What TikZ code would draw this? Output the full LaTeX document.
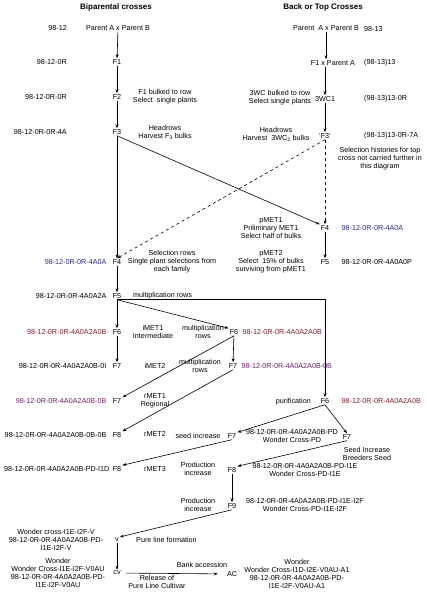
\documentclass[tikz,border=0pt]{standalone}
\usepackage{fontspec}
\setmainfont{Liberation Sans}
\usetikzlibrary{positioning,arrows.meta}
\definecolor{idblue}{RGB}{40,40,140}
\definecolor{idred}{RGB}{130,30,40}
\definecolor{idpurple}{RGB}{110,30,110}

\begin{document}
\begin{tikzpicture}[x=1pt, y=-1pt, font=\fontsize{7.2}{8}\selectfont,
		every node/.style={inner sep=1pt},
		note/.style={align=center, inner sep=0pt},
		lineid/.style={inner sep=1pt},
		arr/.style={line width=0.6pt, -{Stealth[length=4pt,width=3pt]}},
		title/.style={font=\fontsize{8}{9}\selectfont\bfseries}]
		\useasboundingbox (0,0) rectangle (427,599);

		\node[title] (t1) at (116,7) {Biparental crosses};
		\node[title] (t2) at (323,7) {Back or Top Crosses};

		% biparental crosses
		\node (p) at (118,28) {Parent A x Parent B};
		\node (f1) at (117,62) {F1};
		\node (f2) at (117,97) {F2};
		\node (f3) at (117,132) {F3};
		\node (f4) at (117,262) {F4};
		\node (f5) at (117,296) {F5};
		\node (f6) at (117,332) {F6};
		\node (f7) at (117,366) {F7};
		\node (f7b) at (117,401) {F7};
		\node (f8) at (117,435) {F8};
		\node (f8b) at (117,469) {F8};
		\node (v) at (117,540) {v};
		\node (cv) at (117,573) {cv};
		\node (ac) at (232,574) {AC};

		\node[lineid, anchor=east] (id0) at (68,28) {98-12};
		\node[lineid, anchor=east] (id1) at (68,62) {98-12-0R};
		\node[lineid, anchor=east] (id2) at (68,97) {98-12-0R-0R};
		\node[lineid, anchor=east] (id3) at (68,132) {98-12-0R-0R-4A};
		\node[lineid, left=4pt of f4, text=idblue] (id4) {98-12-0R-0R-4A0A};
		\node[lineid, left=4pt of f5] (id5) {98-12-0R-0R-4A0A2A};
		\node[lineid, left=4pt of f6, text=idred] (id6) {98-12-0R-0R-4A0A2A0B};
		\node[lineid, left=4pt of f7] (id7) {98-12-0R-0R-4A0A2A0B-0I};
		\node[lineid, left=4pt of f7b, text=idpurple] (id7b) {98-12-0R-0R-4A0A2A0B-0B};
		\node[lineid, left=4pt of f8] (id8) {98-12-0R-0R-4A0A2A0B-0B-0B};
		\node[lineid, left=1pt of f8b] (id8b) {98-12-0R-0R-4A0A2A0B-PD-I1D};
		\node[note] (idv) at (56,540) {Wonder cross-I1E-I2F-V\\98-12-0R-0R-4A0A2A0B-PD-\\I1E-I2F-V};
		\node[note] (idcv) at (58,573) {Wonder\\Wonder Cross-I1E-I2F-V0AU\\98-12-0R-0R-4A0A2A0B-PD-\\I1E-I2F-V0AU};

		\node[note] (n2) at (165,97) {F1 bulked to row\\Select\ \ single plants};
		\node[note] (n3) at (165,132) {Headrows\\Harvest F\textsubscript{3} bulks};
		\node[note] (n4) at (172,262) {Selection rows\\Single plant selections from\\each family};
		\node[anchor=west] (n5) at (132,296) {multiplication rows};
		\node[note] (n6) at (153,332) {iMET1\\Intermediate};
		\node[note] (n6m) at (203,332) {multiplication\\rows};
		\node (n7) at (155,366) {iMET2};
		\node[note] (n7m) at (200,366) {multiplication\\rows};
		\node[note] (n7b) at (155,401) {rMET1\\Regional};
		\node (n8) at (155,434) {rMET2};
		\node (n8m) at (198,436) {seed increase};
		\node (n8b) at (155,469) {rMET3};
		\node[note] (n8bm) at (198,469) {Production\\increase};
		\node[note] (n9m) at (198,505) {Production\\increase};
		\node[anchor=west] (nv) at (135,540) {Pure line formation};
		\node (nac) at (202,565) {Bank accession};
		\node[note] (ncv) at (157,582) {Release of\\Pure Line Cultivar};

		% middle
		\node (mf6) at (234,332) {F6};
		\node (mf7) at (233,366) {F7};
		\node (mf7b) at (232,436) {F7};
		\node (mf8) at (232,470) {F8};
		\node (mf9) at (232,506) {F9};
		\node[lineid, right=2pt of mf6, text=idred] (idm6) {98-12-0R-0R-4A0A2A0B};
		\node[lineid, right=2pt of mf7, text=idpurple] (idm7) {98-12-0R-0R-4A0A2A0B-0B};
		\node[note] (idm7b) at (292,436) {98-12-0R-0R-4A0A2A0B-PD\\Wonder Cross-PD};
		\node[note] (idm8) at (305,470) {98-12-0R-0R-4A0A2A0B-PD-I1E\\Wonder Cross-PD-I1E};
		\node[note] (idm9) at (305,505) {98-12-0R-0R-4A0A2A0B-PD-I1E-I2F\\Wonder Cross-PD-I1E-I2F};
		\node[note] (idac) at (297,574) {Wonder\\Wonder Cross-I1D-I2E-V0AU-A1\\98-12-0R-0R-4A0A2A0B-PD-\\I1E-I2F-V0AU-A1};

		% back or top crosses
		\node (rp) at (326,28) {Parent\ \ A x Parent B};
		\node (rf1) at (333,63) {F1 x Parent A};
		\node (rw) at (325,99) {3WC1};
		\node (rf3) at (325,136) {`F3'};
		\node (rf4) at (325,228) {F4};
		\node (rf5) at (325,262) {F5};
		\node (rf6) at (325,401) {F6};
		\node (rf7) at (347,437) {F7};

		\node[lineid, anchor=west] (idr0) at (363,29) {98-13};
		\node[lineid, anchor=west] (idr1) at (363,63) {(98-13)13};
		\node[lineid, anchor=west] (idr2) at (363,99) {(98-13)13-0R};
		\node[lineid, anchor=west] (idr3) at (363,136) {(98-13)13-0R-7A};
		\node[lineid, right=10pt of rf4, text=idblue] (idr4) {98-12-0R-0R-4A0A};
		\node[lineid, right=10pt of rf5] (idr5) {98-12-0R-0R-4A0A0P};
		\node[lineid, right=10pt of rf6, text=idred] (idr6) {98-12-0R-0R-4A0A2A0B};

		\node[note] (nr2) at (280,98) {3WC bulked to row\\Select single plants};
		\node[note] (nr3) at (276,134) {Headrows\\Harvest\ \ 3WC\textsubscript{2} bulks};
		\node[note] (nr3b) at (380,159) {Selection histories for top\\cross not carried further in\\this diagram};
		\node[note] (nr4) at (271,228) {pMET1\\Priliminary MET1\\Select half of bulks};
		\node[note] (nr5) at (271,262) {pMET2\\Select\ \ 15\% of bulks\\surviving from pMET1};
		\node[anchor=east] (nr6) at (312,402) {purification};
		\node[note] (nr7) at (367,454) {Seed Increase\\Breeders Seed};

		\draw[arr] (p) -- (f1);
		\draw[arr] (f1) -- (f2);
		\draw[arr] (f2) -- (f3);
		\draw[arr] (f3) -- (f4);
		\draw[arr] (f3.south) -- (rf4.north west);
		\draw[arr] (f4) -- (f5);
		\draw[arr] (f5) -- (f6);
		\draw[arr] (f5.south) -- (mf6.north west);
		\draw[arr] (f5.south) -- (f5.south -| rf6) -- (rf6);
		\draw[arr] (f6) -- (f7);
		\draw[arr] (mf6) -- (mf7);
		\draw[arr] (mf6.south) -- (f7b.north east);
		\draw[arr] (mf7.south) -- (f8.north east);
		\draw[arr] (rf6.south) -- (mf7b.north east);
		\draw[arr] (rf6.south) -- (rf7.north);
		\draw[arr] (mf7b.south) -- (f8b.north east);
		\draw[arr] (rf7.south) -- (mf8.north east);
		\draw[arr] (mf8) -- (mf9);
		\draw[arr] (mf9.south) -- (v.north east);
		\draw[arr] (v) -- (cv);
		\draw[arr, shorten <=4pt, shorten >=8pt] (cv) -- (ac);

		\draw[arr] (rp) -- (rp |- rf1.north);
		\draw[arr] (rw |- rf1.south) -- (rw);
		\draw[arr] (rw) -- (rf3);
		\draw[arr, dashed] (rf3) -- (rf4);
		\draw[arr, dashed] (rf3.south) -- (f4.north);
		\draw[arr] (rf4) -- (rf5);
	\end{tikzpicture}
\end{document}
